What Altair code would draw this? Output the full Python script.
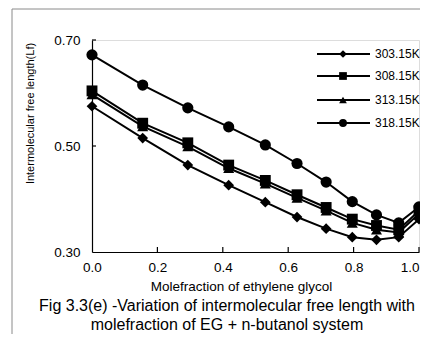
import altair as alt
import pandas as pd

# ---- data ----
mole_fraction = [0.0, 0.155, 0.293, 0.418, 0.530, 0.627, 0.716, 0.796, 0.870, 0.938, 1.0]
series = ["303.15K", "308.15K", "313.15K", "318.15K"]
lf_303 = [0.575, 0.515, 0.464, 0.426, 0.394, 0.366, 0.344, 0.328, 0.323, 0.328, 0.362]
lf_308 = [0.604, 0.543, 0.506, 0.464, 0.435, 0.408, 0.384, 0.362, 0.350, 0.342, 0.378]
lf_313 = [0.597, 0.537, 0.499, 0.458, 0.429, 0.402, 0.378, 0.355, 0.342, 0.337, 0.372]
lf_318 = [0.672, 0.615, 0.572, 0.536, 0.502, 0.467, 0.432, 0.395, 0.370, 0.355, 0.385]
x_ticks = [0.0, 0.2, 0.4, 0.6, 0.8, 1.0]
y_ticks = [0.30, 0.50, 0.70]
shapes = ["diamond", "square", "triangle-up", "circle"]
sizes = [115, 125, 95, 150]
legend_sizes = [60, 60, 60, 62]
caption = ["Fig 3.3(e) -Variation of intermolecular free length with",
           "molefraction of EG + n-butanol system"]

values = [lf_303, lf_308, lf_313, lf_318]
rows = []
for s, vals in zip(series, values):
    for xv, yv in zip(mole_fraction, vals):
        rows.append({"series": s, "x": xv, "y": yv})
df = pd.DataFrame(rows)

FONT = "Liberation Sans"
W, H = 327, 212

xscale = alt.Scale(domain=[0, 1], nice=False, zero=False)
yscale = alt.Scale(domain=[0.3, 0.7], nice=False, zero=False)

x_enc = alt.X("x:Q", scale=xscale, axis=alt.Axis(
    values=x_ticks, format=".1f", ticks=False, tickSize=0, grid=False,
    labelPadding=8, labelFontSize=13.5, labelFont=FONT, labelColor="black",
    labelAlign={"expr": "datum.value >= 1 ? 'right' : 'center'"},
    domainColor="black", domainWidth=1.2,
    title="Molefraction of ethylene glycol", titleFont=FONT, titleFontSize=13.5,
    titleFontWeight="normal", titleColor="black",
    titleX=149, titleY=34, titleBaseline="middle", titleAnchor="middle",
    labelFlush=False))
y_enc = alt.Y("y:Q", scale=yscale, axis=alt.Axis(
    values=y_ticks, format=".2f", ticks=False, tickSize=0, grid=False,
    labelPadding=12, labelFontSize=13.5, labelFont=FONT, labelColor="black",
    domainColor="black", domainWidth=1.2,
    title="Intermolecular free length(Lf)", titleFont=FONT, titleFontSize=11,
    titleFontWeight="normal", titleColor="black",
    titleX=-62, titleY=73, titleBaseline="middle", titleAnchor="middle",
    titleAngle=270))

shape_scale = alt.Scale(domain=series, range=shapes)
size_scale = alt.Scale(domain=series, range=sizes)

lines = alt.Chart(df).mark_line(color="black", strokeWidth=2).encode(
    x=x_enc, y=y_enc, detail="series:N")
points = alt.Chart(df).mark_point(filled=True, color="black", opacity=1).encode(
    x=x_enc, y=y_enc,
    shape=alt.Shape("series:N", scale=shape_scale, legend=None),
    size=alt.Size("series:N", scale=size_scale, legend=None))

# inward tick marks
ytick_df = pd.DataFrame({"y": y_ticks[1:]})
xtick_df = pd.DataFrame({"x": x_ticks[1:]})
yticks = alt.Chart(ytick_df).mark_rule(color="black", strokeWidth=1.2).encode(
    y=y_enc, x=alt.value(0), x2=alt.value(4))
xticks = alt.Chart(xtick_df).mark_rule(color="black", strokeWidth=1.2).encode(
    x=x_enc, y=alt.value(H), y2=alt.value(H - 5))

one = pd.DataFrame({"a": [0]})
frame_v = alt.Chart(one).mark_rule(color="#8a8a8a", strokeWidth=1).encode(
    x=alt.value(-80), y=alt.value(-31), y2=alt.value(294))
frame_h = alt.Chart(one).mark_rule(color="#8a8a8a", strokeWidth=1).encode(
    x=alt.value(-80), x2=alt.value(328), y=alt.value(-31))

# custom legend
leg_df = pd.DataFrame({"series": series})
legend_rows = [14, 36, 60, 83]
legend_layers = []
for s, shp, sz, ry in zip(series, shapes, legend_sizes, legend_rows):
    base = alt.Chart(leg_df).transform_filter(alt.datum.series == s)
    legend_layers.append(base.mark_rule(color="black", strokeWidth=2).encode(
        x=alt.value(225), x2=alt.value(278), y=alt.value(ry)))
    legend_layers.append(base.mark_point(filled=True, color="black", opacity=1,
                                         shape=shp, size=sz).encode(
        x=alt.value(251), y=alt.value(ry)))
    legend_layers.append(base.mark_text(align="left", baseline="middle", font=FONT,
                                        fontSize=12, color="black").encode(
        x=alt.value(283), y=alt.value(ry), text="series:N"))

cap_df = pd.DataFrame({"line": caption})
cap1 = alt.Chart(cap_df).transform_filter(alt.datum.line == caption[0]).mark_text(
    align="center", baseline="middle", font=FONT, fontSize=16, color="black").encode(
    x=alt.value(135), y=alt.value(266), text="line:N")
cap2 = alt.Chart(cap_df).transform_filter(alt.datum.line == caption[1]).mark_text(
    align="center", baseline="middle", font=FONT, fontSize=16, color="black").encode(
    x=alt.value(135), y=alt.value(285), text="line:N")

chart = alt.layer(
    frame_v, frame_h, lines, points, yticks, xticks, *legend_layers, cap1, cap2
).properties(
    width=W, height=H,
    autosize=alt.AutoSizeParams(type="none"),
    padding={"left": 84, "top": 32, "right": 1, "bottom": 82},
).configure_view(stroke=None).configure(background="white")

chart.save("out.html", embed_options={"renderer": "svg", "actions": False})
